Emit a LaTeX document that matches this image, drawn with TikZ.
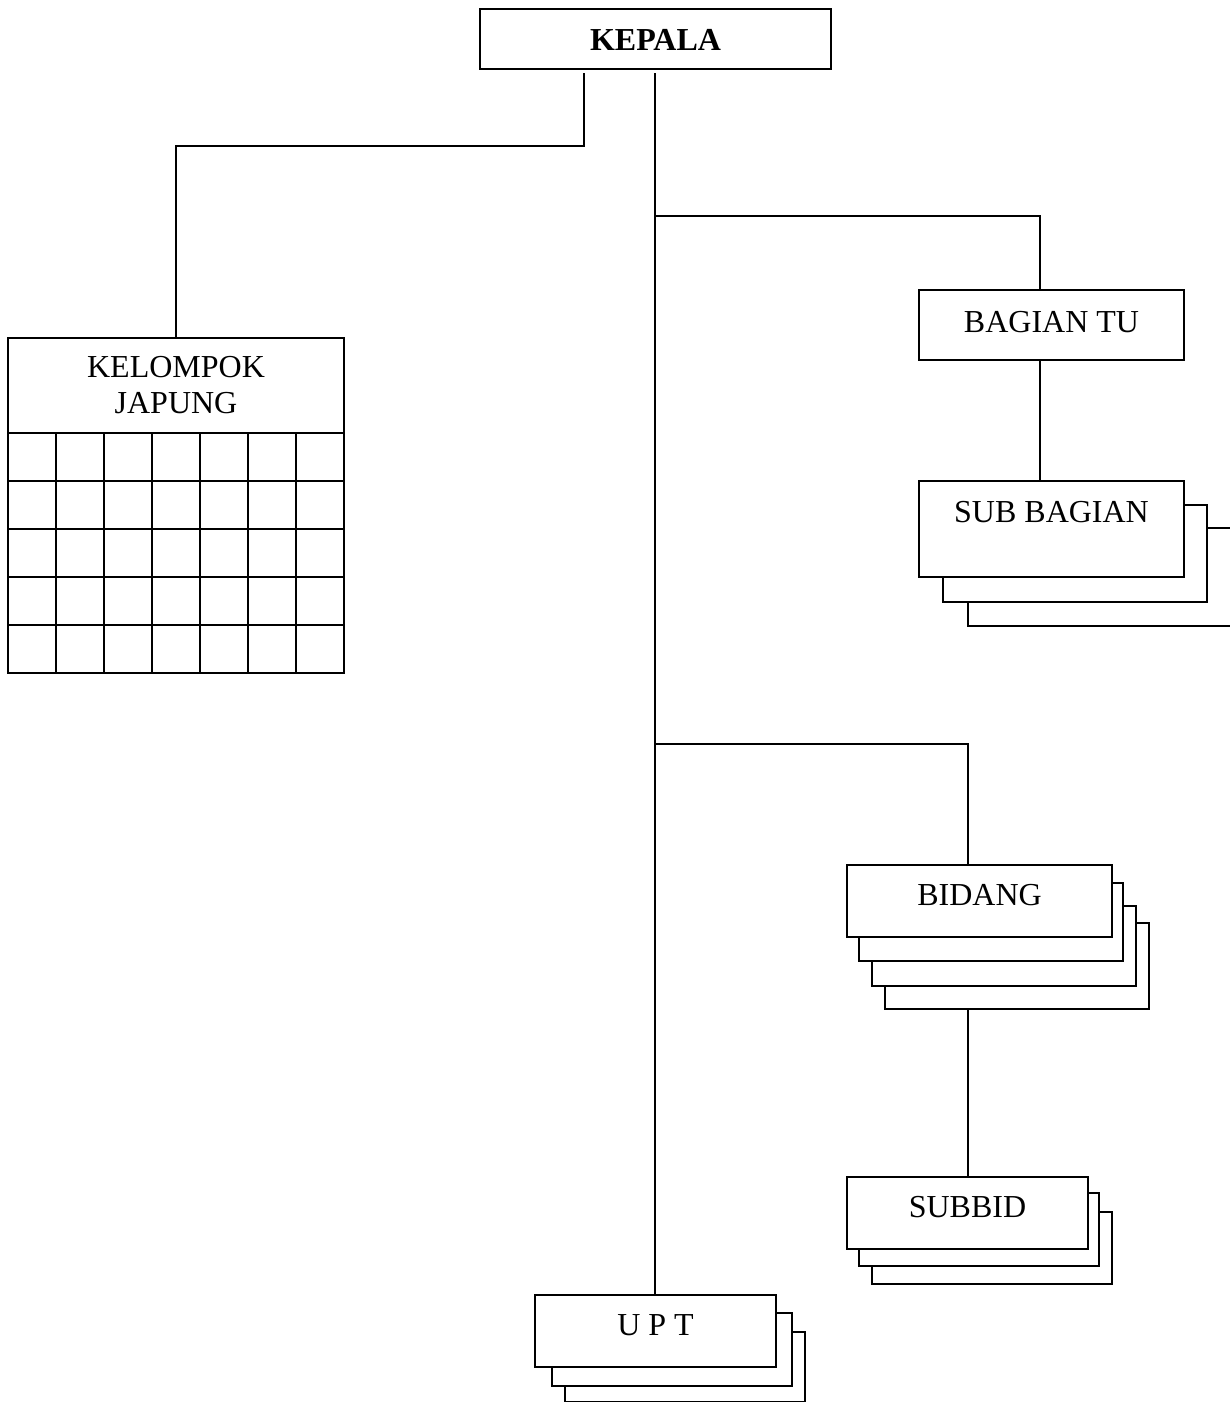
\documentclass[tikz,border=0pt]{standalone}
\usepackage{fontspec}
\setmainfont{Liberation Serif}
\usetikzlibrary{positioning,fit,calc}

\begin{document}
\begin{tikzpicture}[x=0.75pt,y=-0.75pt,
  box/.style={draw=black,fill=white,line width=1.3pt,inner sep=0pt},
  lbl/.style={font=\fontsize{24}{27}\selectfont,text=black,anchor=base,inner sep=0pt},
  link/.style={draw=black,line width=1.3pt}]
\useasboundingbox (0,0) rectangle (1230,1403);
\clip (0,0) rectangle (1230,1403);
% kepala
\node[box,fit={(480,9) (831,69)}] (kepala) {};
\node[lbl,font=\fontsize{24}{27}\selectfont\bfseries] (kepala-t) at (kepala.center |- 0,50) {KEPALA};
% kelompok japung
\node[box,fit={(8,338) (344,673)}] (kelompok) {};
\node[lbl] (kelompok-t1) at (kelompok.center |- 0,377) {KELOMPOK};
\node[lbl] (kelompok-t2) at (kelompok.center |- 0,413) {JAPUNG};
\draw[link] (8,433) -- (344,433) (8,481) -- (344,481) (8,529) -- (344,529)
  (8,577) -- (344,577) (8,625) -- (344,625);
\draw[link] (56,433) -- (56,673) (104,433) -- (104,673) (152,433) -- (152,673)
  (200,433) -- (200,673) (248,433) -- (248,673) (296,433) -- (296,673);
% bagian tu
\node[box,fit={(919,290) (1184,360)}] (bagtu) {};
\node[lbl] (bagtu-t) at (bagtu.center |- 0,332) {BAGIAN TU};
% sub bagian
\node[box,fit={(968,528) (1250,626)}] (subbag3) {};
\node[box,fit={(943,505) (1207,602)}] (subbag2) {};
\node[box,fit={(919,481) (1184,577)}] (subbag) {};
\node[lbl] (subbag-t) at (subbag.center |- 0,522) {SUB BAGIAN};
% bidang
\node[box,fit={(885,923) (1149,1009)}] (bidang4) {};
\node[box,fit={(872,906) (1136,986)}] (bidang3) {};
\node[box,fit={(859,883) (1123,961)}] (bidang2) {};
\node[box,fit={(847,865) (1112,937)}] (bidang) {};
\node[lbl] (bidang-t) at (bidang.center |- 0,905) {BIDANG};
% subbid
\node[box,fit={(872,1212) (1112,1284)}] (subbid3) {};
\node[box,fit={(859,1193) (1099,1266)}] (subbid2) {};
\node[box,fit={(847,1177) (1088,1249)}] (subbid) {};
\node[lbl] (subbid-t) at (subbid.center |- 0,1217) {SUBBID};
% upt
\node[box,fit={(565,1332) (805,1401.5)}] (upt3) {};
\node[box,fit={(552,1313) (792,1386)}] (upt2) {};
\node[box,fit={(535,1295) (776,1367)}] (upt) {};
\node[lbl] (upt-t) at (upt.center |- 0,1335) {U P T};
% lines
\coordinate (kl) at (584,73);
\coordinate (kr) at (655,73);
\coordinate (tu) at (1040,216);
\coordinate (bd) at (968,744);
\draw[link] (kl) -- ++(0,73) -| (kelompok.north);
\draw[link] (kr) -- (kr |- upt.north);
\draw[link] (kr |- tu) -- (tu) -- (tu |- bagtu.north);
\draw[link] (tu |- bagtu.south) -- (tu |- subbag.north);
\draw[link] (kr |- bd) -- (bd) -- (bd |- bidang.north);
\draw[link] (bd |- bidang4.south) -- (bd |- subbid.north);
\end{tikzpicture}
\end{document}
